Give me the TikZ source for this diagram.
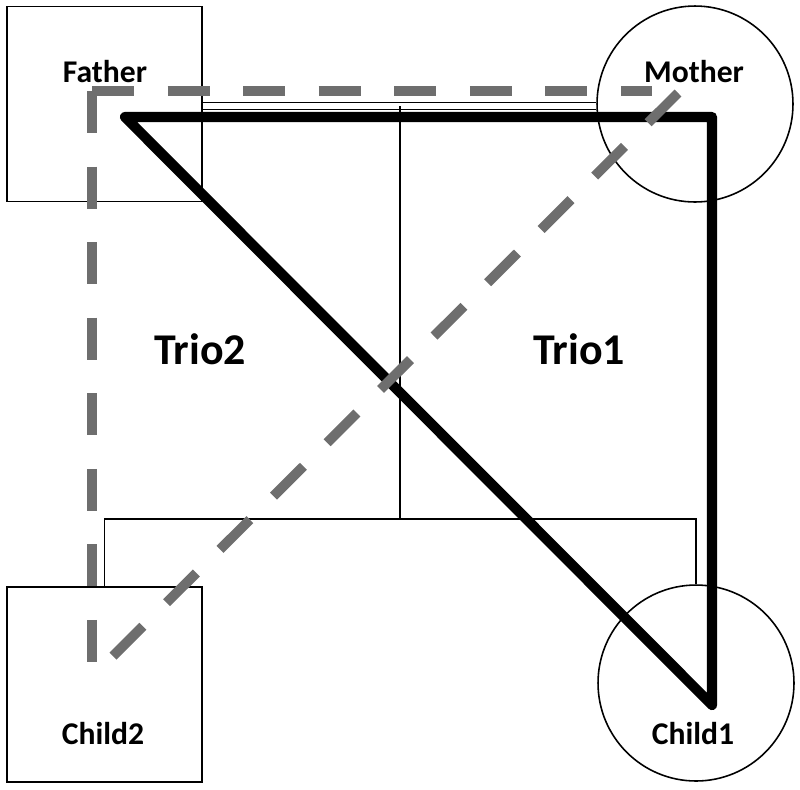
\documentclass[tikz,border=0pt]{standalone}
\usepackage{fontspec}
\setmainfont{Carlito}
\usetikzlibrary{positioning}
\tikzset{>=latex}
\definecolor{dashgray}{HTML}{6e6e6e}
\tikzset{
  male/.style={draw,line width=0.9pt,minimum size=3.9cm,inner sep=0pt},
  female/.style={draw,circle,line width=0.9pt,minimum size=3.92cm,inner sep=0pt},
  plabel/.style={font=\bfseries\fontsize{18}{20}\selectfont},
  triolabel/.style={font=\bfseries\fontsize{25}{28}\selectfont},
  kin/.style={line width=0.9pt},
  triofull/.style={line width=5.8pt,line join=round,line cap=round},
  triodash/.style={line width=5.6pt,color=dashgray,dash pattern=on 24pt off 19pt}
}

\begin{document}
\begin{tikzpicture}[x=0.02cm,y=-0.02cm]
	\useasboundingbox (0,0) rectangle (800,789);

	% parents and children
	\node[male] (father) at (104.5,104) {};
	\node[female] (mother) at (695,104) {};
	\node[male] (child2) at (104.5,684.5) {};
	\node[female] (child1) at (696,683) {};

	\node[plabel] (fatherlbl) at (105,72) {Father};
	\node[plabel] (motherlbl) at (694,72) {Mother};
	\node[plabel] (child2lbl) at (103,733) {Child2};
	\node[plabel] (child1lbl) at (693,733) {Child1};

	\node[triolabel] (trio2) at (200,349) {Trio2};
	\node[triolabel] (trio1) at (579,349) {Trio1};

	% pedigree lines
	\coordinate (marriage) at (400,106);
	\coordinate (sibs) at (400,519);
	\draw[kin,double,double distance=3.2pt] (father.east |- marriage) -- (mother.west |- marriage);
	\draw[kin] (marriage) -- (sibs);
	\draw[kin] (child2.north) |- (sibs) -| (child1.north);

	% trio 1
	\coordinate (fa1) at (125,117);
	\coordinate (mo1) at (712,117);
	\coordinate (ch1) at (712,705);
	\draw[triofull] (fa1) -- (mo1) -- (ch1) -- cycle;

	% trio 2
	\coordinate (fa2) at (92,91);
	\coordinate (mo2) at (652,91);
	\coordinate (mo2b) at (678,93);
	\coordinate (ch2) at (92,665);
	\coordinate (ch2b) at (107,662);
	\draw[triodash] (fa2) -- (mo2);
	\draw[triodash] (fa2) -- (ch2);
	\draw[triodash] (mo2b) -- (ch2b);
\end{tikzpicture}
\end{document}
